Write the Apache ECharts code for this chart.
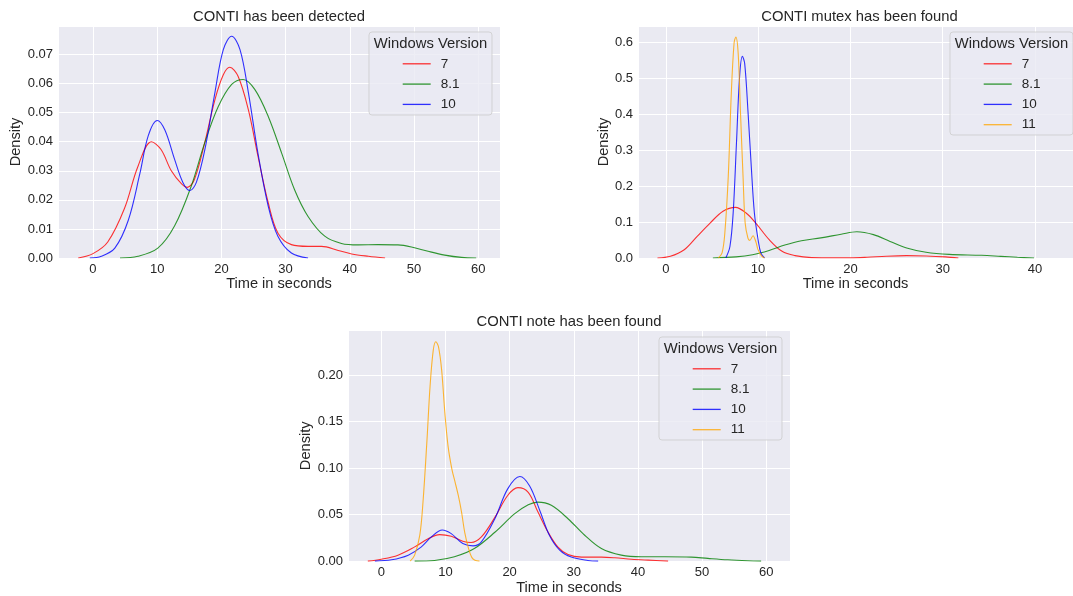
<!DOCTYPE html>
<html>
<head>
<meta charset="utf-8">
<script src="https://cdn.jsdelivr.net/npm/echarts@6/dist/echarts.min.js"></script>
<style>
html,body{margin:0;padding:0;background:#fff;}
#chart{width:1073px;height:596px;}
</style>
</head>
<body>
<div id="chart"></div>
<script>
// ---------- data ----------
const titles = ['CONTI has been detected', 'CONTI mutex has been found', 'CONTI note has been found'];
const versions = ['7', '8.1', '10', '11'];
const xTicks = [0, 10, 20, 30, 40, 50, 60];

// panel 1: CONTI has been detected  [time, density]
const detected7 = [[-2.3,0],[0,0.0015],[2.3,0.0055],[4.9,0.017],[7,0.0315],[9.1,0.040],[10.6,0.0373],[12.2,0.030],[13.8,0.0255],[14.7,0.0243],[15.8,0.027],[17.4,0.0396],[19,0.0545],[20.3,0.063],[21.3,0.0656],[22.6,0.0625],[24.2,0.051],[25.7,0.035],[27.3,0.019],[28.8,0.0086],[30.9,0.0046],[33.5,0.004],[35.6,0.004],[38.2,0.0026],[40.3,0.0014],[42.9,0.0006],[45.5,0]];
const detected81 = [[4.2,0],[7,0.0006],[10.1,0.0034],[12.7,0.011],[15.3,0.0247],[17.4,0.0396],[19.5,0.052],[21.6,0.0597],[23.4,0.0614],[25.2,0.058],[27.3,0.0487],[29.4,0.036],[31.4,0.0235],[33.5,0.0143],[36.1,0.0075],[38.7,0.005],[41.3,0.0045],[44.4,0.0046],[47.5,0.0045],[49.6,0.0038],[52.2,0.0023],[54.8,0.001],[57.4,0.0002],[59.7,0]];
const detected10 = [[-0.5,0],[1.3,0.0006],[3.4,0.0034],[5.5,0.013],[7.3,0.029],[8.6,0.042],[10,0.0473],[11.2,0.044],[12.7,0.034],[14,0.026],[15.1,0.0232],[16.1,0.026],[17.4,0.037],[19,0.057],[20.3,0.0717],[21.6,0.0763],[22.9,0.0717],[24.2,0.057],[25.7,0.036],[27.3,0.0178],[28.8,0.0075],[30.9,0.0017],[33.5,0]];

// panel 2: CONTI mutex has been found
const mutex7 = [[-0.9,0],[0.5,0.005],[2,0.023],[3.4,0.06],[4.8,0.097],[6.2,0.13],[7.55,0.1407],[8.7,0.125],[9.75,0.097],[11.2,0.051],[12.6,0.0185],[14,0.0065],[15.8,0.001],[18.3,0.0003],[20,0.0004],[21.8,0.002],[23.9,0.005],[26.1,0.0065],[28.2,0.0055],[30.3,0.003],[31.7,0]];
const mutex81 = [[5.1,0],[7.6,0.003],[9.4,0.009],[11.2,0.021],[12.9,0.036],[14.7,0.048],[16.8,0.056],[19,0.066],[20.7,0.073],[22.5,0.065],[24.3,0.046],[26.1,0.028],[28.2,0.016],[30.7,0.010],[34.2,0.0075],[36.3,0.0046],[38.1,0.002],[39.9,0]];
const mutex10 = [[6.5,0],[6.95,0.032],[7.3,0.125],[7.66,0.32],[8.0,0.505],[8.3,0.56],[8.55,0.54],[8.9,0.41],[9.26,0.255],[9.6,0.125],[10,0.051],[10.3,0.014],[10.7,0]];
const mutex11 = [[5.7,0],[6.1,0.014],[6.4,0.07],[6.77,0.227],[7.1,0.458],[7.4,0.597],[7.59,0.614],[7.84,0.57],[8.1,0.40],[8.37,0.227],[8.6,0.097],[8.9,0.055],[9.1,0.049],[9.45,0.062],[9.75,0.046],[10.0,0.023],[10.4,0.005],[10.7,0]];

// panel 3: CONTI note has been found
const note7 = [[-2.1,0],[0,0.002],[2.6,0.0064],[5.2,0.0153],[7.3,0.024],[9.1,0.0285],[10.9,0.0267],[12.7,0.0214],[14,0.02],[15.6,0.026],[17.7,0.047],[19.7,0.0706],[21.3,0.079],[22.9,0.074],[24.4,0.053],[26,0.031],[27.5,0.0153],[29.1,0.007],[31.2,0.0043],[34.3,0.0043],[36.4,0.0036],[39,0.002],[41.6,0.001],[44.7,0]];
const note81 = [[5.2,0],[8.3,0.0007],[11.4,0.0046],[14.5,0.0135],[17.7,0.031],[20.8,0.051],[22.9,0.0606],[24.4,0.0635],[26.5,0.06],[29.1,0.0456],[31.7,0.0278],[34.3,0.0135],[37.4,0.0064],[40.5,0.0046],[44.2,0.0046],[48.3,0.0043],[50.9,0.0029],[54,0.0014],[57.1,0.0004],[59.2,0]];
const note10 = [[-1,0],[1.6,0.0014],[4.2,0.0064],[6.2,0.015],[7.8,0.026],[9.5,0.0335],[10.9,0.0296],[12.7,0.019],[14.3,0.0164],[15.6,0.0207],[17.7,0.0456],[19.7,0.0777],[21.6,0.091],[23.1,0.081],[24.7,0.0545],[26.2,0.0278],[27.8,0.0118],[29.6,0.0043],[32.2,0.0007],[33.8,0]];
const note11 = [[4.5,0],[5.2,0.0064],[6,0.028],[6.5,0.0635],[7.1,0.128],[7.6,0.188],[8.1,0.227],[8.5,0.236],[8.9,0.231],[9.4,0.206],[9.9,0.16],[10.4,0.124],[11,0.099],[11.5,0.085],[12,0.0706],[12.5,0.053],[13,0.031],[13.6,0.0135],[14.1,0.004],[14.6,0.001],[15.3,0]];

// ---------- styling / layout ----------
const FONT = 'Liberation Sans';
const TXT = '#262626';
const COLORS = {'7':'#ff0000','8.1':'#008000','10':'#0000ff','11':'#ffa500'};

const panels = [
  {grid:{left:58, top:26, width:442, height:232}, x:[-5.45,63.4], y:[0,0.0798], yDec:2, ySplit:8, nameGap:27,
   series:[['7',detected7],['8.1',detected81],['10',detected10]],
   box:{x:369,y:32,w:123,h:83}},
  {grid:{left:638, top:26, width:443, height:232}, x:[-3.01,44.12], y:[0,0.6444], yDec:1, ySplit:6, nameGap:20,
   series:[['7',mutex7],['8.1',mutex81],['10',mutex10],['11',mutex11]],
   box:{x:950,y:32,w:123,h:103}},
  {grid:{left:348, top:330.5, width:442, height:232}, x:[-5.19,63.7], y:[0,0.2481], yDec:2, ySplit:5, nameGap:27,
   series:[['7',note7],['8.1',note81],['10',note10],['11',note11]],
   box:{x:659,y:337,w:123,h:103}}
];

const option = {
  backgroundColor:'#ffffff',
  animation:false,
  textStyle:{fontFamily:FONT},
  title:[], grid:[], xAxis:[], yAxis:[], series:[], legend:[], graphic:[]
};

panels.forEach((p, i) => {
  const g = p.grid;
  option.grid.push({left:g.left, top:g.top, width:g.width, height:g.height, show:true,
    backgroundColor:'#EAEAF2', borderWidth:0, containLabel:false});
  option.title.push({text:titles[i], left:g.left + g.width/2, top:g.top - 16.5, textAlign:'center', padding:0,
    textStyle:{fontFamily:FONT, fontSize:14.8, fontWeight:'normal', color:TXT}});
  option.xAxis.push({type:'value', gridIndex:i, min:p.x[0], max:p.x[1], splitNumber:5,
    minInterval:10, maxInterval:10,
    name:'Time in seconds', nameLocation:'middle', nameGap:17,
    nameTextStyle:{fontFamily:FONT, fontSize:14.6, color:TXT},
    axisLine:{show:false}, axisTick:{show:false},
    axisLabel:{show:true, showMinLabel:false, showMaxLabel:false, margin:5, fontFamily:FONT, fontSize:13, color:TXT,
      formatter:v => xTicks.includes(Math.round(v)) && Math.abs(v-Math.round(v))<1e-6 ? String(Math.round(v)) : ''},
    splitLine:{show:true, lineStyle:{color:'#ffffff', width:1}}});
  option.yAxis.push({type:'value', gridIndex:i, min:p.y[0], max:p.y[1], splitNumber:p.ySplit,
    name:'Density', nameLocation:'middle', nameGap:p.nameGap,
    nameTextStyle:{fontFamily:FONT, fontSize:14.6, color:TXT},
    axisLine:{show:false}, axisTick:{show:false},
    axisLabel:{show:true, showMaxLabel:false, margin:5, fontFamily:FONT, fontSize:13, color:TXT,
      formatter:v => v.toFixed(p.yDec)},
    splitLine:{show:true, lineStyle:{color:'#ffffff', width:1}}});
  p.series.forEach(([name, data]) => {
    option.series.push({type:'line', name:name, xAxisIndex:i, yAxisIndex:i, data:data,
      smooth:0.35, symbol:'none', showSymbol:false, clip:true, z:2,
      lineStyle:{color:COLORS[name], width:1.1, opacity:0.8}, itemStyle:{color:COLORS[name]}});
  });
  const b = p.box;
  option.graphic.push({type:'rect', z:10, shape:{x:b.x, y:b.y, width:b.w, height:b.h, r:3},
    style:{fill:'rgba(234,234,242,0.8)', stroke:'rgba(204,204,204,0.8)', lineWidth:1}});
  option.graphic.push({type:'text', z:11, x:b.x + b.w/2, y:b.y + 11.5,
    style:{text:'Windows Version', fontFamily:FONT, fontSize:14.8, fill:TXT, align:'center', verticalAlign:'middle'}});
  option.legend.push({data:p.series.map(s => s[0]), orient:'vertical', left:b.x + 33.7, top:b.y + 24.8,
    padding:0, itemWidth:28, itemHeight:14, itemGap:6.3, z:12, selectedMode:false,
    icon:'path://M0,0L28,0L28,1.3L0,1.3Z', symbolKeepAspect:true,
    itemStyle:{opacity:0.8, borderWidth:0},
    textStyle:{fontFamily:FONT, fontSize:13.5, color:TXT, padding:[0,0,0,5]}});
});

const chart = echarts.init(document.getElementById('chart'), null, {renderer:'canvas'});
chart.setOption(option);
</script>
</body>
</html>
